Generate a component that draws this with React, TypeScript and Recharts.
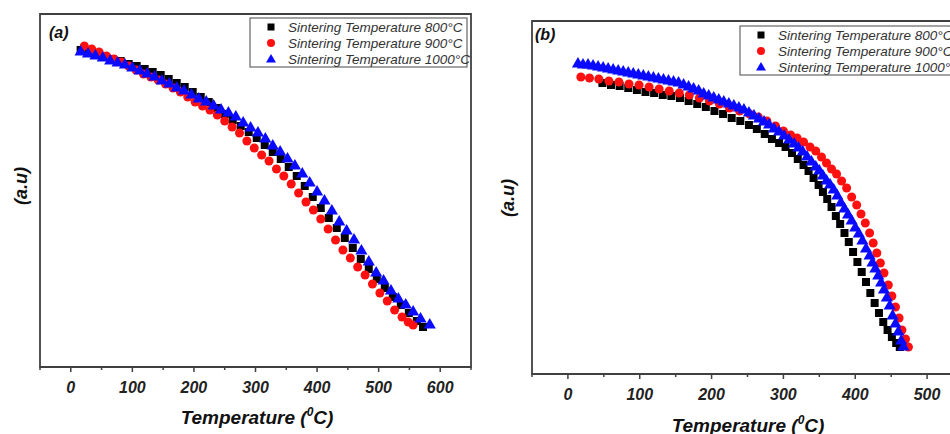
import { ScatterChart, Scatter, XAxis, YAxis, ZAxis, ReferenceArea } from "recharts";

// ---- panel (a) ----
const tempA800 = [16, 29, 42, 55, 68, 81, 94, 107, 120, 133, 146, 159, 172, 185, 198, 211, 224, 237, 250, 263, 276, 289, 302, 315, 328, 341, 354, 367, 380, 393, 406, 419, 432, 445, 458, 471, 484, 497, 510, 523, 536, 549, 562, 572];
const valA800 = [317, 315, 313, 310, 308, 306, 303, 301, 298, 295, 292, 288, 284, 280, 275, 270, 265, 259, 253, 247, 241, 235, 229, 222, 215, 208, 200, 191, 181, 170, 159, 149, 139, 129, 119, 108, 98, 88, 79, 70, 62, 54, 46, 40];

const tempA900 = [22, 34, 46, 58, 70, 82, 94, 106, 118, 130, 142, 154, 166, 178, 190, 202, 214, 226, 238, 250, 262, 274, 286, 298, 310, 322, 334, 346, 358, 370, 382, 394, 406, 418, 430, 442, 454, 466, 478, 490, 502, 514, 526, 538, 548, 556];
const valA900 = [321, 318, 315, 311, 308, 305, 301, 297, 293, 290, 287, 283, 279, 275, 270, 265, 261, 257, 252, 246, 240, 234, 226, 219, 212, 206, 198, 191, 183, 174, 165, 157, 148, 138, 127, 117, 109, 100, 92, 83, 74, 66, 57, 50, 45, 42];

const tempA1000 = [16, 28, 40, 52, 64, 76, 88, 100, 112, 124, 136, 148, 160, 172, 184, 196, 208, 220, 232, 244, 256, 268, 280, 292, 304, 316, 328, 340, 352, 364, 376, 388, 400, 412, 424, 436, 448, 460, 472, 484, 496, 508, 520, 532, 544, 556, 568, 583];
const valA1000 = [315, 313, 311, 309, 306, 304, 302, 299, 296, 293, 290, 286, 283, 279, 276, 272, 268, 265, 261, 257, 254, 250, 244, 239, 234, 228, 221, 215, 208, 201, 193, 184, 175, 166, 156, 145, 136, 127, 116, 105, 94, 86, 76, 68, 62, 55, 48, 42];

// ---- panel (b) ----
const tempB800 = [48, 60, 72, 84, 96, 108, 120, 132, 144, 156, 168, 180, 192, 204, 216, 228, 240, 252, 263, 274, 284, 294, 303, 312, 320, 328, 335, 342, 349, 355, 361, 367, 373, 379, 385, 391, 397, 403, 409, 415, 421, 427, 433, 439, 445, 451, 457, 462];
const valB800 = [291, 289, 288, 286, 284, 282, 281, 279, 278, 276, 273, 270, 267, 263, 260, 256, 253, 249, 245, 240, 235, 231, 227, 221, 215, 209, 203, 196, 189, 182, 175, 167, 158, 150, 141, 132, 122, 112, 102, 92, 81, 71, 61, 52, 44, 37, 31, 27];

const tempB900 = [18, 30, 43, 57, 71, 85, 99, 113, 127, 141, 155, 169, 183, 197, 211, 225, 239, 253, 265, 277, 289, 300, 310, 319, 328, 337, 345, 353, 360, 367, 374, 381, 388, 395, 402, 408, 414, 420, 425, 430, 435, 440, 446, 451, 456, 461, 465, 470, 474];
const valB900 = [297, 296, 295, 293, 292, 290, 289, 287, 285, 283, 281, 279, 276, 273, 270, 266, 263, 260, 257, 253, 248, 243, 239, 236, 232, 227, 223, 217, 211, 205, 200, 193, 186, 177, 169, 160, 151, 141, 131, 121, 111, 101, 89, 78, 67, 56, 44, 35, 27];

const tempB1000 = [14, 21, 28, 35, 42, 49, 56, 63, 70, 77, 84, 91, 98, 105, 112, 119, 126, 133, 140, 147, 154, 161, 168, 175, 182, 189, 196, 203, 210, 217, 224, 231, 238, 245, 252, 259, 266, 273, 280, 287, 294, 301, 308, 315, 321, 327, 333, 339, 345, 350, 355, 360, 365, 370, 375, 380, 385, 390, 395, 400, 405, 410, 415, 420, 424, 428, 432, 436, 440, 444, 448, 452, 456, 460, 464, 467];
const valB1000 = [310, 309, 309, 308, 307, 306, 305, 304, 303, 302, 301, 300, 299, 298, 297, 296, 295, 294, 293, 292, 291, 289, 287, 285, 283, 280, 278, 276, 274, 272, 270, 268, 266, 264, 261, 258, 255, 252, 249, 245, 242, 238, 234, 230, 226, 222, 217, 212, 207, 203, 198, 193, 189, 184, 178, 171, 165, 159, 153, 146, 140, 133, 125, 118, 111, 105, 98, 91, 84, 76, 68, 58, 50, 42, 33, 27];

const ticksA = [-50, 0, 50, 100, 150, 200, 250, 300, 350, 400, 450, 500, 550, 600, 650];
const ticksB = [-50, 0, 50, 100, 150, 200, 250, 300, 350, 400, 450, 500, 550];

const seriesNames = ["Sintering Temperature 800\u00b0C", "Sintering Temperature 900\u00b0C", "Sintering Temperature 1000\u00b0C"];

const FONT = "'Liberation Sans', Arial, sans-serif";
const AXIS = "#404040";
const RED = "#ff1010";
const BLUE = "#0a0aff";

const zip = (t: number[], v: number[]) => t.map((x, i) => ({ t: x, v: v[i] }));

function TempTick(props: any) {
  const { x, y, payload } = props;
  const val = payload.value as number;
  const major = val % 100 === 0;
  return (
    <g>
      <line x1={x} x2={x} y1={y} y2={y + (major ? 5 : 3)} stroke={AXIS} strokeWidth={1.5} />
      {major && val >= 0 && (
        <text x={x} y={y + 26} textAnchor="middle" fontSize={16} fontWeight="bold" fontStyle="italic" fill="#222" fontFamily={FONT}>
          {val}
        </text>
      )}
    </g>
  );
}

interface PanelProps {
  width: number;
  margin: { top: number; right: number; bottom: number; left: number };
  xMax: number;
  ticks: number[];
  s800: { t: number; v: number }[];
  s900: { t: number; v: number }[];
  s1000: { t: number; v: number }[];
}

function Panel({ width, margin, xMax, ticks, s800, s900, s1000 }: PanelProps) {
  return (
    <ScatterChart width={width} height={434} margin={margin}>
      <XAxis
        type="number"
        dataKey="t"
        domain={[-50, xMax]}
        ticks={ticks}
        interval={0}
        height={40}
        axisLine={false}
        tickLine={false}
        tickSize={0}
        tickMargin={0}
        tick={<TempTick />}
      />
      <YAxis type="number" dataKey="v" domain={[0, 353]} hide />
      <ZAxis zAxisId="sq" range={[49, 49]} />
      <ZAxis zAxisId="ci" range={[52, 52]} />
      <ZAxis zAxisId="tr" range={[40, 40]} />
      <ReferenceArea x1={-50} x2={xMax} y1={0} y2={353} fill="none" stroke={AXIS} strokeWidth={1.8} />
      <Scatter data={s800} zAxisId="sq" shape="square" fill="#000" isAnimationActive={false} />
      <Scatter data={s900} zAxisId="ci" shape="circle" fill={RED} isAnimationActive={false} />
      <Scatter data={s1000} zAxisId="tr" shape="triangle" fill={BLUE} isAnimationActive={false} />
    </ScatterChart>
  );
}

function LegendBox({ x, y, w }: { x: number; y: number; w: number }) {
  const mx = x + 21;
  const tx = x + 38;
  const rows = [y + 9, y + 25, y + 41];
  return (
    <g>
      <rect x={x} y={y} width={w} height={49} fill="#fff" stroke="#666" strokeWidth={1.2} />
      <rect x={mx - 3.5} y={rows[0] - 3.5} width={7} height={7} fill="#000" />
      <circle cx={mx} cy={rows[1]} r={4} fill={RED} />
      <path d={`M${mx},${rows[2] - 5} L${mx + 5},${rows[2] + 3.5} L${mx - 5},${rows[2] + 3.5} Z`} fill={BLUE} />
      {seriesNames.map((s, i) => (
        <text key={s} x={tx} y={rows[i] + 5} fontSize={13.5} fontStyle="italic" fill="#333" fontFamily={FONT}>
          {s}
        </text>
      ))}
    </g>
  );
}

function AxisTitle({ cx, y }: { cx: number; y: number }) {
  return (
    <text x={cx} y={y} textAnchor="middle" fontSize={19} fontWeight="bold" fontStyle="italic" fill="#111" fontFamily={FONT}>
      Temperature (<tspan fontSize={12} dy={-8}>0</tspan>
      <tspan dy={8}>C)</tspan>
    </text>
  );
}

export default function App() {
  return (
    <div style={{ position: "absolute", left: 0, top: 0, width: 950, height: 434, overflow: "hidden", background: "#fff" }}>
      <div style={{ position: "absolute", left: 0, top: 0 }}>
        <Panel
          width={480}
          margin={{ top: 14, right: 9, bottom: 27, left: 40 }}
          xMax={650}
          ticks={ticksA}
          s800={zip(tempA800, valA800)}
          s900={zip(tempA900, valA900)}
          s1000={zip(tempA1000, valA1000)}
        />
      </div>
      <div style={{ position: "absolute", left: 480, top: 0 }}>
        <Panel
          width={500}
          margin={{ top: 21, right: 17, bottom: 20, left: 52 }}
          xMax={550}
          ticks={ticksB}
          s800={zip(tempB800, valB800)}
          s900={zip(tempB900, valB900)}
          s1000={zip(tempB1000, valB1000)}
        />
      </div>
      <svg width={950} height={434} style={{ position: "absolute", left: 0, top: 0, pointerEvents: "none" }}>
        <LegendBox x={250} y={18} w={217} />
        <LegendBox x={740} y={26} w={240} />
        <text x={49} y={38} fontSize={16} fontWeight="bold" fontStyle="italic" fill="#111" fontFamily={FONT}>(a)</text>
        <text x={535} y={40} fontSize={16} fontWeight="bold" fontStyle="italic" fill="#111" fontFamily={FONT}>(b)</text>
        <text transform="translate(27,186) rotate(-90)" textAnchor="middle" fontSize={18} fontWeight="bold" fontStyle="italic" fill="#111" fontFamily={FONT}>(a.u)</text>
        <text transform="translate(514,198) rotate(-90)" textAnchor="middle" fontSize={18} fontWeight="bold" fontStyle="italic" fill="#111" fontFamily={FONT}>(a.u)</text>
        <AxisTitle cx={257} y={424} />
        <AxisTitle cx={748} y={432} />
      </svg>
    </div>
  );
}
